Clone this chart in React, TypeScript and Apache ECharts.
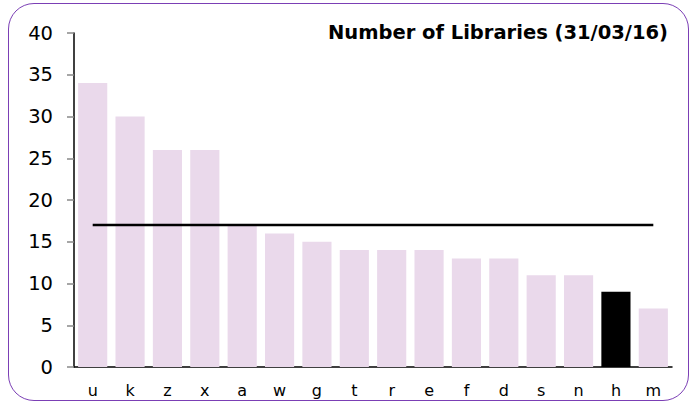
import React, { useEffect, useRef } from "react";
import * as echarts from "echarts";

const categories = ["u", "k", "z", "x", "a", "w", "g", "t", "r", "e", "f", "d", "s", "n", "h", "m"];
const libraries = [34, 30, 26, 26, 17, 16, 15, 14, 14, 14, 13, 13, 11, 11, 9, 7];
const highlighted = "h";
const averageValue = 17;
const yTicks = { min: 0, max: 40, interval: 5 };
const titleText = "Number of Libraries (31/03/16)";

export default function App() {
  const ref = useRef<HTMLDivElement>(null);
  useEffect(() => {
    if (!ref.current) return;
    const chart = echarts.init(ref.current, undefined, { renderer: "svg" });
    const font = "DejaVu Sans, Verdana, sans-serif";
    chart.setOption({
      animation: false,
      title: {
        text: titleText,
        right: 18,
        top: 17,
        textStyle: { fontFamily: font, fontSize: 19.5, fontWeight: "bold", color: "#000" },
      },
      grid: { left: 74, right: 19, top: 33, bottom: 36, containLabel: false },
      xAxis: {
        type: "category",
        data: categories,
        axisLine: { lineStyle: { color: "#000", width: 1.5 } },
        axisTick: { show: false },
        axisLabel: { color: "#000", fontFamily: font, fontSize: 16, margin: 15 },
      },
      yAxis: {
        type: "value",
        min: yTicks.min,
        max: yTicks.max,
        interval: yTicks.interval,
        splitLine: { show: false },
        axisLine: { show: true, lineStyle: { color: "#000", width: 1.5 } },
        axisTick: { show: true, length: 7, lineStyle: { color: "#888", width: 1.5 } },
        axisLabel: { color: "#000", fontFamily: font, fontSize: 19.5, margin: 21 },
      },
      series: [
        {
          type: "bar",
          data: libraries.map((v, i) => ({
            value: v,
            itemStyle: { color: categories[i] === highlighted ? "#000" : "#EAD9EB" },
          })),
          barCategoryGap: "22%",
        },
        {
          type: "line",
          data: categories.map(() => averageValue),
          symbol: "none",
          lineStyle: { color: "#000", width: 2.5 },
          z: 5,
        },
      ],
    });
    return () => chart.dispose();
  }, []);
  return (
    <div style={{ position: "fixed", left: 0, top: 0, width: 691, height: 403, background: "#fff" }}>
      <div
        style={{
          position: "absolute",
          left: 8,
          top: 3,
          width: 681,
          height: 398,
          border: "1.5px solid #7B3FB5",
          borderRadius: 26,
          boxSizing: "border-box",
        }}
      />
      <div ref={ref} style={{ position: "absolute", left: 0, top: 0, width: 691, height: 403 }} />
    </div>
  );
}
